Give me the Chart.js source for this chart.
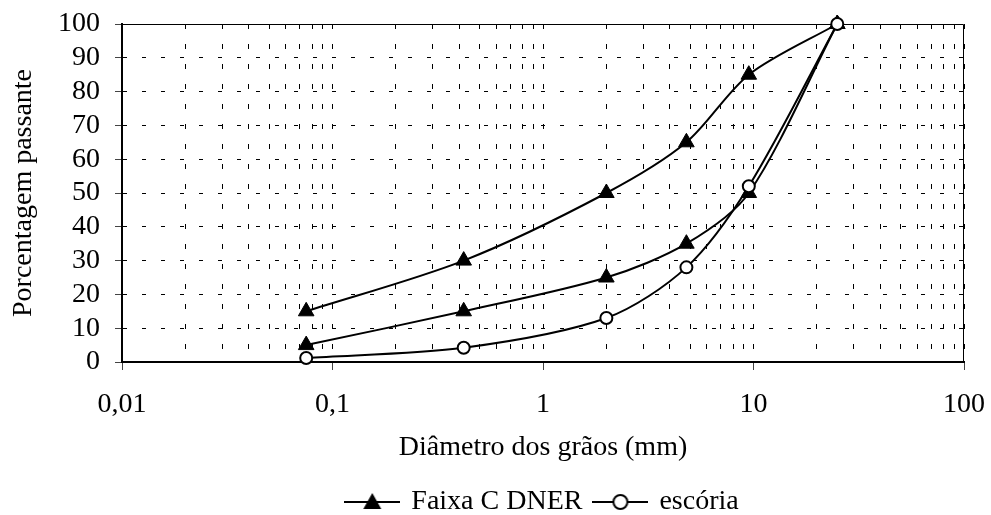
<!DOCTYPE html>
<html>
<head>
  <title>Curva granulométrica</title>
  <script src="https://cdn.jsdelivr.net/npm/chart.js@4.4.0/dist/chart.umd.min.js"></script>
  <style>
    body {
      margin: 0;
      background-color: white;
    }
  </style>
</head>
<body>
  <canvas id="chart" width="991" height="515"></canvas>

  <script>
    // Data
    var sieveSizes = [0.075, 0.42, 2.0, 4.8, 9.5, 25];
    var faixaUpper = [15, 30, 50, 65, 85, 100];
    var faixaLower = [5, 15, 25, 35, 50, 100];
    var escoria = [1.2, 4.2, 13, 28, 52, 100];

    var xMajorTicks = [0.01, 0.1, 1, 10, 100];
    var xTickLabels = ['0,01', '0,1', '1', '10', '100'];

    var seriesNames = ['Faixa C DNER', 'Faixa C DNER', 'escória'];

    // Log grid: 1..9 of each decade
    var xGridValues = [];
    for (var d = 0; d < xMajorTicks.length - 1; d++) {
      for (var m = 1; m <= 9; m++) {
        xGridValues.push(Number((xMajorTicks[d] * m).toPrecision(6)));
      }
    }
    xGridValues.push(xMajorTicks[xMajorTicks.length - 1]);

    function majorIndex(v) {
      for (var i = 0; i < xMajorTicks.length; i++) {
        if (Math.abs(v / xMajorTicks[i] - 1) < 1e-6) return i;
      }
      return -1;
    }

    function toPoints(ys) {
      return sieveSizes.map(function(x, i) { return { x: x, y: ys[i] }; });
    }

    // Legend samples: line with marker in the middle
    function legendSample(kind) {
      var c = document.createElement('canvas');
      c.width = 56;
      c.height = 24;
      var g = c.getContext('2d');
      g.strokeStyle = '#000';
      g.lineWidth = 2;
      g.beginPath();
      g.moveTo(0, 12);
      g.lineTo(56, 12);
      g.stroke();
      if (kind === 'triangle') {
        g.fillStyle = '#000';
        g.beginPath();
        g.moveTo(28, 3);
        g.lineTo(37, 19);
        g.lineTo(19, 19);
        g.closePath();
        g.fill();
      } else {
        g.fillStyle = '#fff';
        g.beginPath();
        g.arc(28, 12, 7, 0, Math.PI * 2);
        g.fill();
        g.stroke();
      }
      return c;
    }
    var legendImages = [legendSample('triangle'), legendSample('triangle'), legendSample('circle')];

    Chart.defaults.font.family = "'Liberation Serif', 'Times New Roman', serif";
    Chart.defaults.font.size = 28;
    Chart.defaults.color = '#000';

    // Thin frame on top and right of the plot area
    var framePlugin = {
      id: 'frame',
      beforeDatasetsDraw: function(chart) {
        var a = chart.chartArea;
        var ctx = chart.ctx;
        var top = Math.round(a.top) + 0.5;
        var right = Math.round(a.right) - 0.5;
        ctx.save();
        ctx.strokeStyle = '#000';
        ctx.lineWidth = 1;
        ctx.beginPath();
        ctx.moveTo(a.left, top);
        ctx.lineTo(right, top);
        ctx.lineTo(right, a.bottom);
        ctx.stroke();
        ctx.restore();
      }
    };

    var triangleStyle = {
      borderColor: '#000',
      borderWidth: 2,
      pointStyle: 'triangle',
      pointRadius: 9,
      pointHoverRadius: 9,
      pointBackgroundColor: '#000',
      pointBorderColor: '#000',
      pointBorderWidth: 1,
      tension: 0.3,
      fill: false,
      clip: false,
      order: 1
    };

    var ctx = document.getElementById('chart').getContext('2d');
    var chart = new Chart(ctx, {
      type: 'line',
      data: {
        datasets: [
          Object.assign({ label: seriesNames[0], data: toPoints(faixaUpper) }, triangleStyle),
          Object.assign({ label: seriesNames[1], data: toPoints(faixaLower) }, triangleStyle),
          {
            label: seriesNames[2],
            data: toPoints(escoria),
            borderColor: '#000',
            borderWidth: 2,
            pointStyle: 'circle',
            pointRadius: 6,
            pointHoverRadius: 6,
            pointBackgroundColor: '#fff',
            pointBorderColor: '#000',
            pointBorderWidth: 2,
            tension: 0.3,
            fill: false,
            clip: false,
            order: 0 // drawn on top
          }
        ]
      },
      options: {
        responsive: false,
        animation: false,
        layout: {
          padding: { top: 24, right: 27, bottom: 0, left: 0 }
        },
        plugins: {
          tooltip: { enabled: false },
          legend: {
            position: 'bottom',
            fullSize: false,
            maxHeight: 40,
            labels: {
              usePointStyle: true,
              pointStyleWidth: 50,
              padding: 13,
              font: { size: 28 },
              generateLabels: function(chart) {
                var items = Chart.defaults.plugins.legend.labels.generateLabels(chart);
                return items.filter(function(it) { return it.datasetIndex !== 1; })
                  .sort(function(a, b) { return a.datasetIndex - b.datasetIndex; })
                  .map(function(it) {
                    it.pointStyle = legendImages[it.datasetIndex];
                    return it;
                  });
              }
            }
          }
        },
        scales: {
          x: {
            type: 'logarithmic',
            min: 0.01,
            max: 100,
            afterBuildTicks: function(scale) {
              scale.ticks = xGridValues.map(function(v) { return { value: v }; });
            },
            afterFit: function(scale) {
              scale.height = 113;
              scale.paddingLeft = 0;
              scale.paddingRight = 0;
            },
            ticks: {
              autoSkip: false,
              maxRotation: 0,
              padding: 18,
              callback: function(value) {
                var i = majorIndex(value);
                return i >= 0 ? xTickLabels[i] : '';
              }
            },
            grid: {
              color: '#000',
              lineWidth: 1,
              tickLength: 8,
              tickWidth: 1,
              tickColor: function(c) {
                return c.tick && majorIndex(c.tick.value) >= 0 ? '#444' : 'rgba(0,0,0,0)';
              }
            },
            border: { display: true, color: '#000', width: 2, dash: [5, 15] },
            title: {
              display: true,
              text: 'Diâmetro dos grãos (mm)',
              padding: { top: 0, bottom: 11 }
            }
          },
          y: {
            min: 0,
            max: 100,
            afterFit: function(scale) {
              scale.width = 122;
              scale.paddingTop = 0;
              scale.paddingBottom = 0;
            },
            ticks: {
              stepSize: 10,
              autoSkip: false,
              padding: 15
            },
            grid: {
              color: '#000',
              lineWidth: 1,
              tickLength: 7,
              tickWidth: 1,
              tickColor: '#444'
            },
            border: { display: true, color: '#000', width: 2, dash: [4, 15] },
            title: {
              display: true,
              text: 'Porcentagem passante',
              padding: { top: 7, bottom: 0 }
            }
          }
        }
      },
      plugins: [framePlugin]
    });
  </script>
</body>
</html>
